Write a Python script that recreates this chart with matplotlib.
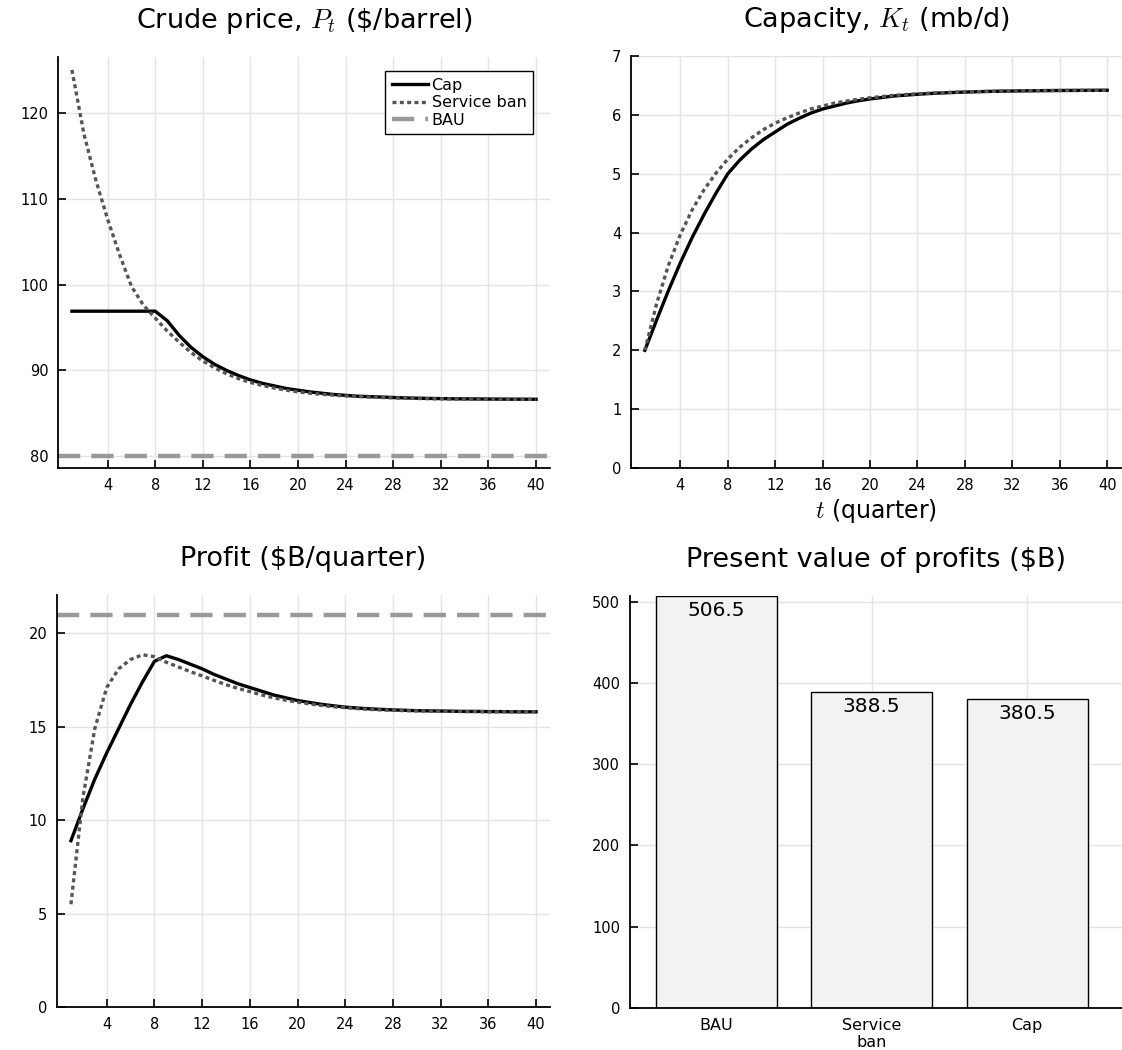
import numpy as np
import matplotlib
matplotlib.use("Agg")
import matplotlib.pyplot as plt

plt.rcParams['font.family'] = ['DejaVu Sans']
plt.rcParams['mathtext.fontset'] = 'cm'

# ---------------- data ----------------
t = np.arange(1, 41)

price_cap = [96.9, 96.9, 96.9, 96.9, 96.9, 96.9, 96.9, 96.9, 95.8, 94.1,
             92.7, 91.6, 90.7, 90.0, 89.4, 88.9, 88.5, 88.2, 87.9, 87.7,
             87.5, 87.35, 87.2, 87.1, 87.0, 86.95, 86.9, 86.85, 86.8, 86.77,
             86.74, 86.72, 86.7, 86.69, 86.68, 86.67, 86.66, 86.65, 86.65, 86.64]
price_ban = [125.0, 117.6, 112.2, 107.6, 103.5, 99.8, 97.6, 96.1, 94.6, 93.3,
             92.1, 91.1, 90.3, 89.6, 89.05, 88.6, 88.25, 87.95, 87.7, 87.5,
             87.35, 87.22, 87.12, 87.03, 86.96, 86.9, 86.85, 86.8, 86.77, 86.74,
             86.72, 86.7, 86.68, 86.67, 86.66, 86.65, 86.64, 86.64, 86.63, 86.63]
price_bau = 80.0

cap_cap = [2.00, 2.52, 3.02, 3.49, 3.92, 4.31, 4.67, 5.00, 5.23, 5.42,
           5.58, 5.71, 5.84, 5.94, 6.03, 6.10, 6.15, 6.20, 6.24, 6.27,
           6.295, 6.32, 6.335, 6.35, 6.362, 6.372, 6.38, 6.387, 6.393, 6.398,
           6.402, 6.405, 6.408, 6.41, 6.412, 6.414, 6.415, 6.416, 6.417, 6.418]
cap_ban = [2.00, 2.80, 3.45, 3.97, 4.39, 4.73, 5.01, 5.25, 5.45, 5.61,
           5.75, 5.86, 5.95, 6.03, 6.10, 6.15, 6.20, 6.235, 6.265, 6.29,
           6.312, 6.33, 6.345, 6.358, 6.368, 6.376, 6.383, 6.389, 6.394, 6.399,
           6.403, 6.406, 6.409, 6.411, 6.413, 6.414, 6.415, 6.416, 6.417, 6.418]

profit_cap = [8.9, 10.6, 12.2, 13.6, 14.9, 16.2, 17.4, 18.5, 18.8, 18.6,
              18.35, 18.1, 17.8, 17.55, 17.3, 17.1, 16.9, 16.7, 16.55, 16.4,
              16.3, 16.2, 16.12, 16.05, 16.0, 15.96, 15.93, 15.9, 15.88, 15.86,
              15.85, 15.84, 15.83, 15.82, 15.82, 15.81, 15.81, 15.8, 15.8, 15.8]
profit_ban = [5.5, 11.2, 14.9, 17.1, 18.1, 18.6, 18.85, 18.75, 18.45, 18.2,
              17.95, 17.72, 17.48, 17.25, 17.05, 16.88, 16.7, 16.55, 16.42, 16.32,
              16.22, 16.14, 16.07, 16.02, 15.97, 15.93, 15.9, 15.88, 15.86, 15.85,
              15.84, 15.83, 15.82, 15.81, 15.81, 15.8, 15.8, 15.8, 15.8, 15.8]
profit_bau = 21.0

pv_labels = ['BAU', 'Service\nban', 'Cap']
pv_values = [506.5, 388.5, 380.5]

# ---------------- figure ----------------
W, H = 1122, 1050
fig = plt.figure(figsize=(W / 100, H / 100), dpi=100)

def px_axes(left, right, top, bottom):
    return fig.add_axes([left / W, 1 - bottom / H, (right - left) / W, (bottom - top) / H])

def style(ax):
    for s in ['top', 'right']:
        ax.spines[s].set_visible(False)
    for s in ['left', 'bottom']:
        ax.spines[s].set_linewidth(1.3)
    ax.grid(True, color='#e4e4e4', linewidth=1.0)
    ax.set_axisbelow(True)
    ax.tick_params(direction='in', length=6, width=1.2, labelsize=10.5, pad=7)

c_cap = 'black'
c_ban = '#555555'
c_bau = '#999999'
xt = np.arange(4, 41, 4)
title_fs = 19.5
title_pad = 21

# crude price
ax1 = px_axes(58, 550, 57, 468)
style(ax1)
ax1.plot(t, price_cap, color=c_cap, lw=2.4, label='Cap', zorder=3)
ax1.plot(t, price_ban, color=c_ban, lw=2.4, ls=(0, (1.2, 1.0)), label='Service ban', zorder=3)
ax1.axhline(price_bau, color=c_bau, lw=3.2, ls=(0, (5, 2.5)), label='BAU')
ax1.set_xlim(-0.17, 41.17)
ax1.set_ylim(78.64, 126.5)
ax1.set_xticks(xt)
ax1.set_yticks([80, 90, 100, 110, 120])
ax1.set_title(r'Crude price, $P_t$ (\$/barrel)', fontsize=title_fs, pad=title_pad)
leg = ax1.legend(loc='upper right', bbox_to_anchor=(0.965, 0.965), fontsize=11.5,
                 frameon=True, fancybox=False, framealpha=1, edgecolor='black',
                 handlelength=2.3, handletextpad=0.2, borderpad=0.4, labelspacing=0.15,
                 borderaxespad=0)
leg.get_frame().set_linewidth(1.0)

# capacity
ax2 = px_axes(631, 1121, 56, 468)
style(ax2)
ax2.plot(t, cap_cap, color=c_cap, lw=2.4, zorder=3)
ax2.plot(t, cap_ban, color=c_ban, lw=2.4, ls=(0, (1.2, 1.0)), zorder=3)
ax2.set_xlim(-0.17, 41.17)
ax2.set_ylim(0, 7)
ax2.set_xticks(xt)
ax2.set_yticks(range(0, 8))
ax2.set_title(r'Capacity, $K_t$ (mb/d)', fontsize=title_fs, pad=title_pad)
ax2.set_xlabel(r'$t$ (quarter)', fontsize=17, labelpad=3)

# profit
ax3 = px_axes(57, 550, 595, 1007)
style(ax3)
ax3.plot(t, profit_cap, color=c_cap, lw=2.4, zorder=3)
ax3.plot(t, profit_ban, color=c_ban, lw=2.4, ls=(0, (1.2, 1.0)), zorder=3)
ax3.axhline(profit_bau, color=c_bau, lw=3.2, ls=(0, (5, 2.5)))
ax3.set_xlim(-0.17, 41.17)
ax3.set_ylim(0, 22.05)
ax3.set_xticks(xt)
ax3.set_yticks([0, 5, 10, 15, 20])
ax3.set_title(r'Profit (\$B/quarter)', fontsize=title_fs, pad=title_pad)

# present value bars
ax4 = px_axes(630, 1122, 596, 1008)
style(ax4)
xb = np.arange(1, len(pv_values) + 1)
ax4.bar(xb, pv_values, width=0.78, color='#f2f2f2', edgecolor='black', linewidth=1.0, zorder=2)
for xi, v in zip(xb, pv_values):
    ax4.text(xi, v - 6, f'{v:.1f}', ha='center', va='top', fontsize=14.5, zorder=3)
ax4.set_xlim(0.445, 3.61)
ax4.set_ylim(0, 507)
ax4.set_xticks(xb)
ax4.set_xticklabels(pv_labels, fontsize=11.5, linespacing=1.15)
ax4.tick_params(axis='x', length=0)
ax4.set_yticks(range(0, 501, 100))
ax4.set_title(r'Present value of profits (\$B)', fontsize=title_fs, pad=title_pad)

fig.savefig('out.png', dpi=100)
